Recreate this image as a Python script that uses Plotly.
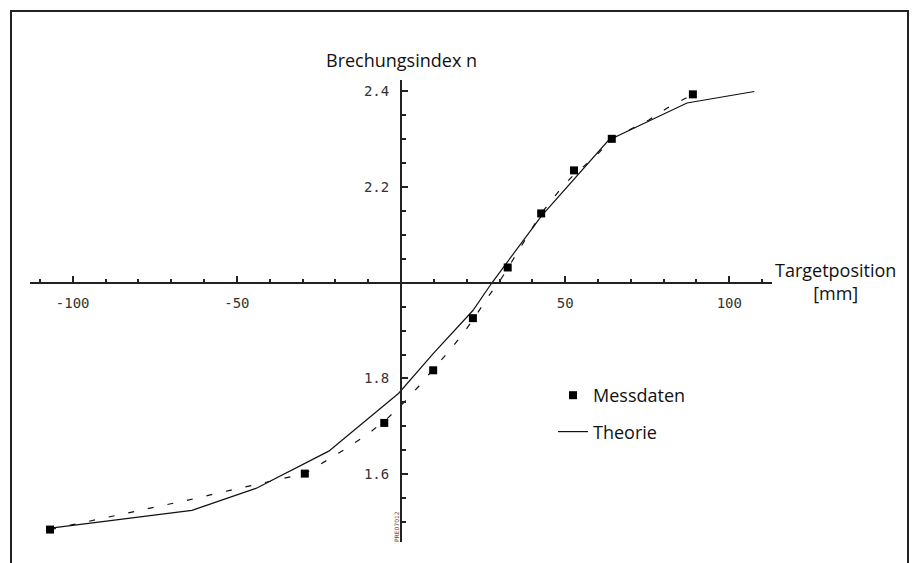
import plotly.graph_objects as go

# Messdaten (measured points)
mess_x = [-106.9, -29.3, -5.1, 9.8, 21.9, 32.5, 42.7, 52.7, 64.2, 88.9]
mess_y = [1.484, 1.601, 1.707, 1.817, 1.926, 2.032, 2.145, 2.235, 2.301, 2.394]

# Theorie (solid line)
theo_x = [-106.7, -63.7, -44.2, -22.0, -0.7, 9.8, 21.9, 27.7, 42.8, 52.5, 63.2, 87.1, 107.6]
theo_y = [1.487, 1.524, 1.570, 1.648, 1.769, 1.852, 1.942, 2.000, 2.140, 2.215, 2.298, 2.376, 2.400]

# Fit through measured data (dashed line)
fit_x = [-106.9, -92.3, -78.6, -65.3, -52.1, -38.9, -29.3, -20.6, -15.0, -8.9, -3.9, 1.2, 5.6,
         10.4, 14.4, 18.5, 22.5, 26.1, 30.2, 32.5, 36.3, 42.7, 49.5, 53.0, 59.1, 64.2, 69.3,
         75.4, 81.0, 88.9]
fit_y = [1.484, 1.505, 1.525, 1.545, 1.566, 1.587, 1.601, 1.637, 1.661, 1.690, 1.718, 1.752, 1.785,
         1.824, 1.855, 1.890, 1.928, 1.967, 2.005, 2.030, 2.072, 2.145, 2.204, 2.228, 2.263, 2.301, 2.319,
         2.340, 2.365, 2.394]

x_tickvals = [-100, -50, 50, 100]
x_ticktext = ["-100", "-50", "50", "100"]
y_tickvals = [1.6, 1.8, 2.2, 2.4]
y_ticktext = ["1.6", "1.8", "2.2", "2.4"]

X_RANGE = [-113, 113]
Y_RANGE = [1.458, 2.424]

fig = go.Figure()

fig.add_trace(go.Scatter(
    x=fit_x, y=fit_y, mode="lines", showlegend=False,
    line=dict(color="#111", width=1.2, dash="6px,14px"),
))
fig.add_trace(go.Scatter(
    x=theo_x, y=theo_y, mode="lines", name="Theorie", legendgroup="b", legendrank=2,
    line=dict(color="#111", width=1.2),
))
fig.add_trace(go.Scatter(
    x=mess_x, y=mess_y, mode="markers", name="Messdaten", legendgroup="a", legendrank=1,
    marker=dict(symbol="square", size=8, color="#000"),
))

W, H = 913, 563
ML, MR, MT, MB = 30, 141, 80, 21
pw, ph = W - ML - MR, H - MT - MB

def px2paper_x(px):
    return (px - ML) / pw

def px2paper_y(py):
    return (H - MB - py) / ph

x_pos = (2.0 - Y_RANGE[0]) / (Y_RANGE[1] - Y_RANGE[0])
y_pos = (0 - X_RANGE[0]) / (X_RANGE[1] - X_RANGE[0])

tickfont = dict(family="DejaVu Sans Mono", size=14, color="#333")

fig.update_xaxes(
    range=X_RANGE, anchor="free", position=x_pos,
    showgrid=False, zeroline=False, showline=True, linecolor="#222", linewidth=2,
    tickmode="array", tickvals=x_tickvals, ticktext=x_ticktext,
    ticks="inside", ticklen=6, tickwidth=1.5, tickcolor="#222",
    ticklabelstandoff=7, tickfont=tickfont,
    minor=dict(ticks="inside", ticklen=3, tickwidth=1.5, tickcolor="#222", dtick=10, tick0=0, showgrid=False),
)
fig.update_yaxes(
    range=Y_RANGE, anchor="free", position=y_pos,
    showgrid=False, zeroline=False, showline=True, linecolor="#222", linewidth=2,
    tickmode="array", tickvals=y_tickvals, ticktext=y_ticktext,
    ticks="inside", ticklen=6, tickwidth=1.5, tickcolor="#222",
    ticklabelstandoff=8, tickfont=tickfont,
    minor=dict(ticks="inside", ticklen=4, tickwidth=1.5, tickcolor="#222", dtick=0.05, tick0=0, showgrid=False),
)

textfont = dict(family="Open Sans", size=18, color="#111")

fig.add_annotation(x=0, xref="x", y=px2paper_y(60), yref="paper",
                   text="Brechungsindex n", showarrow=False, font=textfont,
                   xanchor="center", yanchor="middle")
fig.add_annotation(x=px2paper_x(835), xref="paper", y=px2paper_y(281), yref="paper",
                   text="Targetposition<br>[mm]", showarrow=False, font=textfont,
                   xanchor="center", yanchor="middle", align="center")
fig.add_annotation(x=px2paper_x(396), xref="paper", y=px2paper_y(527), yref="paper",
                   text="PRE07012", textangle=-90, showarrow=False,
                   font=dict(family="DejaVu Sans", size=6, color="#555"),
                   xanchor="center", yanchor="middle")

# outer frame
fig.add_shape(type="rect", xref="paper", yref="paper",
              x0=px2paper_x(11), x1=px2paper_x(908), y0=px2paper_y(580), y1=px2paper_y(11),
              line=dict(color="#222", width=2), layer="below")

fig.update_layout(
    width=W, height=H,
    margin=dict(l=ML, r=MR, t=MT, b=MB),
    paper_bgcolor="white", plot_bgcolor="white",
    legend=dict(x=px2paper_x(553), y=px2paper_y(377), xanchor="left", yanchor="top",
                font=textfont, bgcolor="rgba(0,0,0,0)", tracegroupgap=10,
                traceorder="grouped"),
)

fig.write_html("out.html")
